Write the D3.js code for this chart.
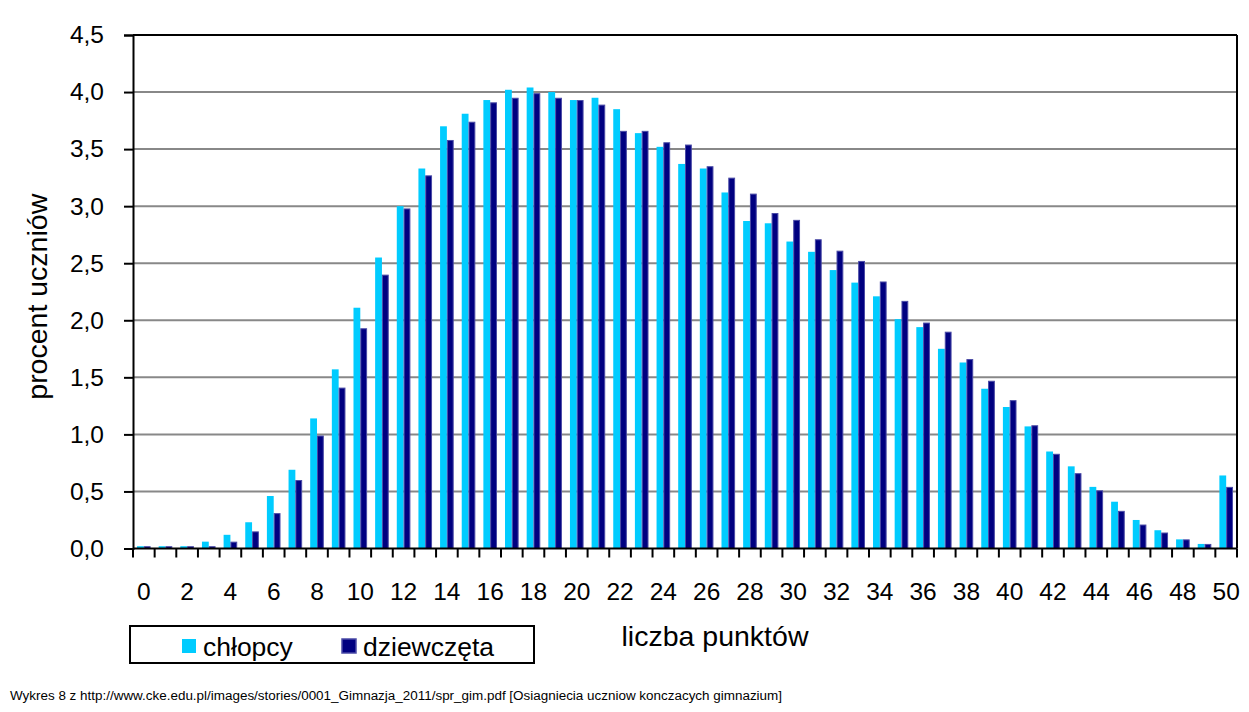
<!DOCTYPE html>
<html>
<head>
<meta charset="utf-8">
<script src="https://cdn.jsdelivr.net/npm/d3@7"></script>
<style>
  html, body { margin: 0; padding: 0; background: #fff; }
  svg { display: block; font-family: "Liberation Sans", Arial, sans-serif; }
</style>
</head>
<body>
<svg id="chart" width="1249" height="712"></svg>
<script>
const categories = d3.range(0, 51);
const seriesNames = ["chłopcy", "dziewczęta"];
const chlopcy = [0.02,0.02,0.02,0.06,0.12,0.23,0.46,0.69,1.14,1.57,2.11,2.55,3.00,3.33,3.70,3.81,3.93,4.02,4.04,4.00,3.93,3.95,3.85,3.64,3.52,3.37,3.33,3.12,2.87,2.85,2.69,2.60,2.44,2.33,2.21,2.01,1.94,1.75,1.63,1.40,1.24,1.07,0.85,0.72,0.54,0.41,0.25,0.16,0.08,0.04,0.64];
const dziewczeta = [0.02,0.02,0.02,0.02,0.06,0.15,0.31,0.60,0.99,1.41,1.93,2.40,2.98,3.27,3.58,3.74,3.91,3.95,3.99,3.95,3.93,3.89,3.66,3.66,3.56,3.54,3.35,3.25,3.11,2.94,2.88,2.71,2.61,2.52,2.34,2.17,1.98,1.90,1.66,1.47,1.30,1.08,0.83,0.66,0.51,0.33,0.21,0.14,0.08,0.04,0.54];
const yTicks = [0,0.5,1,1.5,2,2.5,3,3.5,4,4.5];
const xTickLabels = d3.range(0, 51, 2);
const yTitle = "procent uczniów";
const xTitle = "liczba punktów";
const footer = "Wykres 8 z http://www.cke.edu.pl/images/stories/0001_Gimnazja_2011/spr_gim.pdf [Osiagniecia uczniow konczacych gimnazium]";

const colors = ["#00CCFF", "#000080"];
const strokes = [null, "#4a4aa6"];
const seriesData = [chlopcy, dziewczeta];

const svg = d3.select("#chart");
const L = 133, R = 1237, T = 35, B = 548.5;

const x0 = d3.scaleBand().domain(categories).range([L, R]).padding(0);
const x1 = d3.scaleBand().domain([0, 1]).range([0, x0.bandwidth()]).paddingInner(0).paddingOuter(0.59);
const y = d3.scaleLinear().domain([0, 4.5]).range([B, T]);

// gridlines
svg.append("g").selectAll("line").data(yTicks.filter(d => d > 0 && d < 4.5)).join("line")
  .attr("x1", L).attr("x2", R)
  .attr("y1", d => y(d)).attr("y2", d => y(d))
  .attr("stroke", "#888").attr("stroke-width", 2);

// bars
seriesData.forEach((vals, si) => {
  svg.append("g").selectAll("rect").data(categories).join("rect")
    .attr("x", c => x0(c) + x1(si) + (si === 1 ? 0.5 : 0))
    .attr("y", c => y(vals[c]) + (si === 1 ? 0.5 : 0))
    .attr("width", x1.bandwidth() - (si === 1 ? 1 : 0))
    .attr("height", c => B - y(vals[c]) - (si === 1 ? 0.5 : 0))
    .attr("fill", colors[si])
    .attr("stroke", strokes[si] || "none")
    .attr("stroke-width", si === 1 ? 1 : 0);
});

// frame: top and right
svg.append("line").attr("x1", L).attr("x2", R).attr("y1", T).attr("y2", T).attr("stroke", "#000").attr("stroke-width", 2);
svg.append("line").attr("x1", R).attr("x2", R).attr("y1", T).attr("y2", B).attr("stroke", "#000").attr("stroke-width", 2);

// y axis
const yAxis = d3.axisLeft(y).tickValues(yTicks).tickSize(9).tickPadding(20)
  .tickFormat(d => d3.format(".1f")(d).replace(".", ","));
const gy = svg.append("g").attr("transform", `translate(${L},0)`).call(yAxis);
gy.select(".domain").attr("stroke", "#000").attr("stroke-width", 2);
gy.selectAll(".tick line").attr("stroke", "#000").attr("stroke-width", 2);
gy.selectAll(".tick text").attr("font-size", 24.5).attr("fill", "#000")
  .attr("font-family", "Liberation Sans, Arial, sans-serif");

// x axis: tick marks at band boundaries
const boundaries = categories.map(c => x0(c)).concat([R]);
svg.append("line").attr("x1", L).attr("x2", R).attr("y1", B).attr("y2", B).attr("stroke", "#000").attr("stroke-width", 2);
svg.append("g").selectAll("line").data(boundaries).join("line")
  .attr("x1", d => d).attr("x2", d => d).attr("y1", B).attr("y2", B + 9)
  .attr("stroke", "#000").attr("stroke-width", 2);
svg.append("g").selectAll("text").data(xTickLabels).join("text")
  .attr("x", d => x0(d) + x0.bandwidth() / 2)
  .attr("y", 600)
  .attr("text-anchor", "middle")
  .attr("font-size", 24.5)
  .text(d => d);

// axis titles
svg.append("text")
  .attr("transform", `translate(47,${(T + B) / 2 + 5}) rotate(-90)`)
  .attr("text-anchor", "middle")
  .attr("font-size", 28.5)
  .text(yTitle);
svg.append("text")
  .attr("x", 715).attr("y", 646)
  .attr("text-anchor", "middle")
  .attr("font-size", 28.5)
  .text(xTitle);

// legend
const lg = svg.append("g");
lg.append("rect").attr("x", 130).attr("y", 626).attr("width", 404).attr("height", 37)
  .attr("fill", "#fff").attr("stroke", "#000").attr("stroke-width", 2);
const legendX = [182, 342];
seriesNames.forEach((name, i) => {
  lg.append("rect").attr("x", legendX[i]).attr("y", 639).attr("width", 14).attr("height", 14)
    .attr("fill", colors[i]).attr("stroke", strokes[i] || "none").attr("stroke-width", i === 1 ? 1.5 : 0);
  lg.append("text").attr("x", legendX[i] + 21).attr("y", 656).attr("font-size", 26.5).text(name);
});

// footer
svg.append("text").attr("x", 10).attr("y", 700).attr("font-size", 12.5)
  .attr("font-family", "Liberation Sans Narrow, Arial Narrow, Liberation Sans, sans-serif")
  .attr("textLength", 772).attr("lengthAdjust", "spacingAndGlyphs")
  .text(footer);
</script>
</body>
</html>
